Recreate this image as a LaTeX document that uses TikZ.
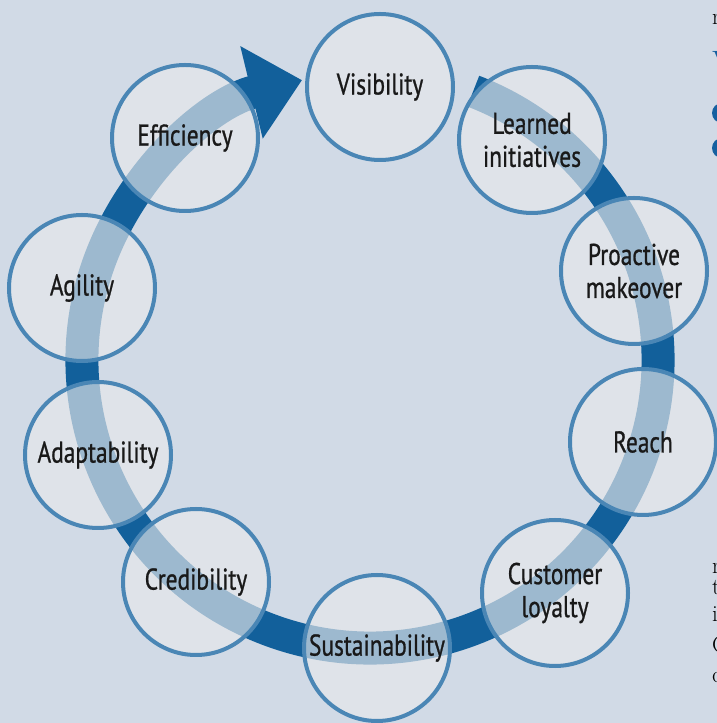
\documentclass[tikz,border=0pt]{standalone}
\usepackage{fontspec}
\newfontfamily\condensed[FakeStretch=0.78,FakeBold=0.8]{PT Sans}
\usepackage{xcolor}
\usetikzlibrary{arrows.meta}

\definecolor{pagebg}{RGB}{209,218,230}
\definecolor{cyclearrow}{RGB}{18,96,155}
\definecolor{ringline}{RGB}{74,134,181}
\definecolor{ringfill}{RGB}{232,233,235}
\definecolor{marginblue}{RGB}{22,96,160}

\begin{document}
\begin{tikzpicture}[
  x=1pt,y=1pt,
  cycle/.style={line width=33pt,draw=cyclearrow,
    -{Triangle[length=52pt,width=92pt]}},
  stage/.style={circle,draw=ringline,line width=4pt,fill=ringfill,
    fill opacity=0.65,text opacity=1,minimum size=146pt,inner sep=0pt,
    align=center,text=black!90,
    font=\condensed\fontsize{30}{33}\selectfont},
  margin/.style={anchor=base west,inner sep=0pt,
    font=\fontsize{23}{28}\selectfont}
]
  \useasboundingbox (0,0) rectangle (717,723);
  \fill[pagebg] (0,0) rectangle (717,723);
  \clip (0,0) rectangle (717,723);

  % big arrow, clockwise from learned initiatives round to visibility
  \coordinate (hub) at (370,363);
  \draw[cycle] ([shift={(69:288)}]hub)
    arc[start angle=69,end angle=-256.35,radius=288];

  \node[stage] (visibility)  at (380,636) {Visibility};
  \node[stage] (learned)     at (532,583) {Learned\\initiatives};
  \node[stage] (proactive)   at (634,452) {Proactive\\makeover};
  \node[stage] (reach)       at (643,281) {Reach};
  \node[stage] (loyalty)     at (555,130) {Customer\\loyalty};
  \node[stage] (sustain)     at (377,75)  {Sustainability};
  \node[stage] (credibility) at (196,141) {Credibility};
  \node[stage] (adapt)       at (98,268)  {Adaptability};
  \node[stage] (agility)     at (82,435)  {Agility};
  \node[stage] (efficiency)  at (185,585) {Efficiency};

  % text running off the right edge
  \node[margin] (top-r) at (712,698) {r};
  \node[margin,text=marginblue,font=\bfseries\fontsize{22}{26}\selectfont]
    (top-v) at (712,656) {V};
  \fill[marginblue] (722,610) circle (10);
  \fill[marginblue] (722,575) circle (10);
  \node[margin] (low-r) at (712,149) {r};
  \node[margin] (low-t) at (712,128) {t};
  \node[margin] (low-i) at (712,101) {i};
  \node[margin] (low-c) at (712,70)  {C};
  \node[margin] (low-cc) at (712,40) {c};
\end{tikzpicture}
\end{document}
